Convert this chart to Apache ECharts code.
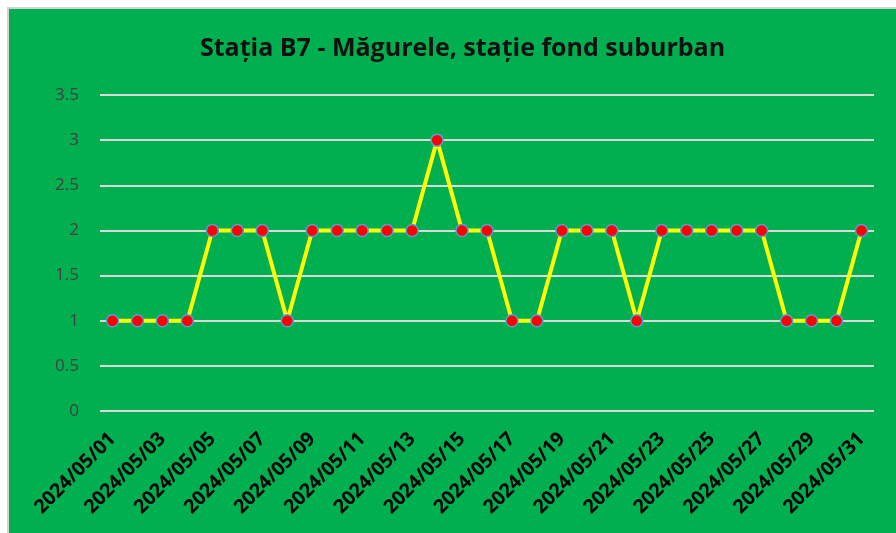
<!DOCTYPE html>
<html>
<head>
<meta charset="utf-8">
<script src="https://cdn.jsdelivr.net/npm/echarts@6/dist/echarts.min.js"></script>
<style>
  body { margin: 0; background: #fff; }
  #frame {
    position: absolute; left: 7px; top: 7px;
    border-left: 2px solid #d4d4d4; border-top: 2px solid #d4d4d4;
  }
  #chart { width: 887px; height: 524px; }
</style>
</head>
<body>
<div id="frame"><div id="chart"></div></div>
<script>
const days = [];
for (let d = 1; d <= 31; d++) days.push('2024/05/' + (d < 10 ? '0' + d : d));
const values = [1, 1, 1, 1, 2, 2, 2, 1, 2, 2, 2, 2, 2, 3, 2, 2, 1, 1, 2, 2, 2, 1, 2, 2, 2, 2, 2, 1, 1, 1, 2];
const yTicks = [0, 0.5, 1, 1.5, 2, 2.5, 3, 3.5];

const chart = echarts.init(document.getElementById('chart'));
chart.setOption({
  backgroundColor: '#00B050',
  animation: false,
  title: {
    text: 'Stația B7 - Măgurele, stație fond suburban',
    left: 186,
    top: 22,
    textStyle: { fontFamily: 'Open Sans', fontWeight: 'bold', fontSize: 25, color: '#111' }
  },
  grid: { left: 91, right: 22, top: 86, bottom: 122 },
  xAxis: {
    type: 'category',
    data: days,
    boundaryGap: true,
    axisLine: { show: false },
    axisTick: { show: false },
    axisLabel: {
      interval: 1,
      rotate: 45,
      margin: 25,
      color: '#000',
      fontWeight: 'bold',
      fontSize: 19.5,
      fontFamily: 'Open Sans'
    }
  },
  yAxis: {
    type: 'value',
    min: yTicks[0],
    max: yTicks[yTicks.length - 1],
    interval: 0.5,
    axisLine: { show: false },
    axisTick: { show: false },
    splitLine: { lineStyle: { color: '#d9d9d9', width: 2 } },
    axisLabel: {
      margin: 21,
      color: '#404040',
      fontSize: 17,
      fontFamily: 'Open Sans'
    }
  },
  series: [{
    type: 'line',
    data: values,
    symbol: 'circle',
    symbolSize: 12,
    lineStyle: { color: '#ffff00', width: 4 },
    itemStyle: { color: '#ff0000', borderColor: '#5b9bd5', borderWidth: 1.5 }
  }]
});
</script>
</body>
</html>
